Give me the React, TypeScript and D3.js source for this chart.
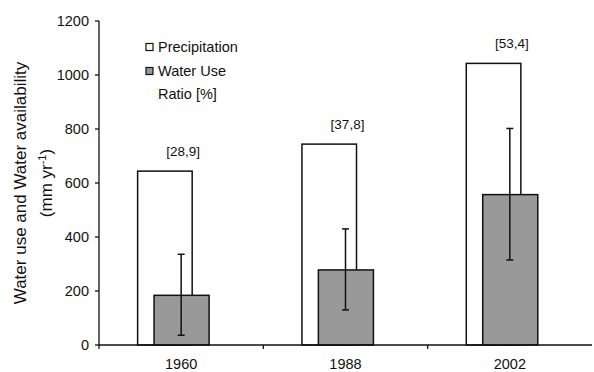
import React from "react";
import * as d3 from "d3";

const years = ["1960", "1988", "2002"];
const precipitation = [644, 744, 1043];
const waterUse = [184, 278, 557];
const errLow = [36, 130, 315];
const errHigh = [336, 430, 802];
const ratioLabels = ["[28,9]", "[37,8]", "[53,4]"];
const yTicks = [0, 200, 400, 600, 800, 1000, 1200];

const W = 594;
const H = 372;
const font = "Arial, 'Liberation Sans', sans-serif";

export default function App() {
  const x = d3.scaleBand<string>().domain(years).range([99, 592]).padding(0);
  const y = d3.scaleLinear().domain([0, 1200]).range([345, 21]);
  const bw = x.bandwidth();
  const cx = (d: string) => (x(d) as number) + bw / 2;

  return (
    <svg
      width={W}
      height={H}
      style={{ position: "fixed", left: 0, top: 0, background: "#fff" }}
      fontFamily={font}
    >
      <rect x={0} y={0} width={W} height={H} fill="#fff" />
      {/* precipitation bars */}
      {years.map((d, i) => (
        <rect
          key={"p" + d}
          x={cx(d) - 0.265 * bw}
          y={y(precipitation[i])}
          width={0.332 * bw}
          height={y(0) - y(precipitation[i])}
          fill="#fff"
          stroke="#111"
          strokeWidth={1.5}
        />
      ))}
      {/* water use bars */}
      {years.map((d, i) => (
        <rect
          key={"w" + d}
          x={cx(d) - 0.165 * bw}
          y={y(waterUse[i])}
          width={0.335 * bw}
          height={y(0) - y(waterUse[i])}
          fill="#999999"
          stroke="#111"
          strokeWidth={1.5}
        />
      ))}
      {/* error bars */}
      {years.map((d, i) => (
        <g key={"e" + d} stroke="#111" strokeWidth={1.5}>
          <line x1={cx(d)} x2={cx(d)} y1={y(errLow[i])} y2={y(errHigh[i])} />
          <line x1={cx(d) - 3.5} x2={cx(d) + 3.5} y1={y(errLow[i])} y2={y(errLow[i])} />
          <line x1={cx(d) - 3.5} x2={cx(d) + 3.5} y1={y(errHigh[i])} y2={y(errHigh[i])} />
        </g>
      ))}
      {/* ratio labels */}
      {years.map((d, i) => (
        <text
          key={"l" + d}
          x={cx(d) + 2}
          y={y(precipitation[i]) - 15}
          textAnchor="middle"
          fontSize={13.5}
          fill="#111"
        >
          {ratioLabels[i]}
        </text>
      ))}
      {/* y axis */}
      <line x1={99} x2={99} y1={21} y2={349} stroke="#111" strokeWidth={1.3} />
      {yTicks.map((t) => (
        <g key={"yt" + t}>
          <line x1={95} x2={99} y1={y(t)} y2={y(t)} stroke="#111" strokeWidth={1.3} />
          <text x={89} y={y(t) + 5} textAnchor="end" fontSize={14.5} fill="#111">
            {t}
          </text>
        </g>
      ))}
      {/* x axis */}
      <line x1={99} x2={592} y1={345} y2={345} stroke="#111" strokeWidth={1.3} />
      {years.map((d, i) => (
        <g key={"xt" + d}>
          {i > 0 && (
            <line x1={x(d)} x2={x(d)} y1={345} y2={349} stroke="#111" strokeWidth={1.3} />
          )}
          <text x={cx(d)} y={369} textAnchor="middle" fontSize={14.5} fill="#111">
            {d}
          </text>
        </g>
      ))}
      {/* y title */}
      <text
        transform={`translate(26, ${(21 + 345) / 2}) rotate(-90)`}
        textAnchor="middle"
        fontSize={17}
        fill="#111"
      >
        Water use and Water availability
      </text>
      <text
        transform={`translate(52, ${(21 + 345) / 2}) rotate(-90)`}
        textAnchor="middle"
        fontSize={17}
        fill="#111"
      >
        (mm yr<tspan dy={-6} fontSize={11}>-1</tspan>
        <tspan dy={6}>)</tspan>
      </text>
      {/* legend */}
      <rect x={146} y={43.5} width={7} height={7} fill="#fff" stroke="#111" strokeWidth={1.2} />
      <text x={158} y={52} fontSize={14.5} fill="#111">Precipitation</text>
      <rect x={146} y={67.5} width={7} height={7} fill="#999999" stroke="#111" strokeWidth={1.2} />
      <text x={158} y={76} fontSize={14.5} fill="#111">Water Use</text>
      <text x={158} y={99} fontSize={14.5} fill="#111">Ratio [%]</text>
    </svg>
  );
}
